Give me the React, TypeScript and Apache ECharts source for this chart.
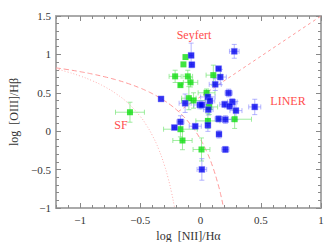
import React, { useEffect, useRef } from "react";
import * as echarts from "echarts";

// Blue points: x, y, x-error, y-error
const blueX = [-0.328, -0.078, -0.072, 0.28, 0.15, 0.164, 0.122, 0.233, 0.061, 0.078, -0.128, -0.005, 0.011, 0.064, 0.2, 0.264, 0.242, 0.294, 0.45, -0.167, -0.217, -0.044, 0.061, 0.15, 0.206, 0.153, 0.206, 0.011];
const blueY = [0.42, 0.987, 0.866, 1.04, 0.814, 0.705, 0.61, 0.498, 0.446, 0.394, 0.364, 0.342, 0.342, 0.281, 0.35, 0.381, 0.325, 0.268, 0.316, 0.121, 0.048, 0.065, 0.078, 0.16, 0.152, -0.039, -0.238, -0.498];
const blueXErr = [0.0, 0.02, 0.02, 0.04, 0.02, 0.05, 0.05, 0.03, 0.06, 0.04, 0.05, 0.05, 0.04, 0.04, 0.04, 0.04, 0.04, 0.05, 0.05, 0.03, 0.02, 0.05, 0.02, 0.03, 0.05, 0.02, 0.03, 0.04];
const blueYErr = [0.0, 0.16, 0.03, 0.09, 0.02, 0.1, 0.08, 0.05, 0.08, 0.05, 0.12, 0.05, 0.05, 0.07, 0.04, 0.04, 0.04, 0.12, 0.1, 0.08, 0.02, 0.02, 0.08, 0.04, 0.05, 0.05, 0.04, 0.14];

// Green points
const greenX = [-0.586, -0.125, -0.142, -0.211, -0.106, -0.167, -0.083, 0.106, -0.097, -0.058, 0.05, 0.072, 0.061, -0.167, -0.15, 0.008, 0.283];
const greenY = [0.247, 0.965, 0.87, 0.714, 0.714, 0.6, 0.636, 0.73, 0.43, 0.4, 0.5, 0.316, 0.134, 0.026, -0.121, -0.238, 0.156];
const greenXErr = [0.12, 0.0, 0.0, 0.05, 0.04, 0.01, 0.06, 0.06, 0.06, 0.1, 0.07, 0.07, 0.1, 0.14, 0.08, 0.07, 0.14];
const greenYErr = [0.13, 0.0, 0.0, 0.08, 0.08, 0.01, 0.06, 0.13, 0.15, 0.1, 0.05, 0.1, 0.1, 0.1, 0.12, 0.15, 0.12];

// Axis ticks
const xMajor = [-1, -0.5, 0, 0.5, 1];
const yMajor = [-1, -0.5, 0, 0.5, 1, 1.5];
const xMinor = [-1.2, -1.1, -0.9, -0.8, -0.7, -0.6, -0.4, -0.3, -0.2, -0.1, 0.1, 0.2, 0.3, 0.4, 0.6, 0.7, 0.8, 0.9];
const yMinor = [-0.9, -0.8, -0.7, -0.6, -0.4, -0.3, -0.2, -0.1, 0.1, 0.2, 0.3, 0.4, 0.6, 0.7, 0.8, 0.9, 1.1, 1.2, 1.3, 1.4];

// Demarcation-curve sample abscissae
const curveXs = [-1.2, -1.1, -1.0, -0.9, -0.8, -0.7, -0.6, -0.5, -0.45, -0.4, -0.35, -0.3, -0.25, -0.2, -0.15, -0.1, -0.05, 0.0, 0.05, 0.1, 0.15, 0.17, 0.19];
const kaufXs = [-1.2, -1.1, -1.0, -0.9, -0.8, -0.7, -0.6, -0.5, -0.45, -0.4, -0.35, -0.3, -0.27, -0.24, -0.22];

const kewley = (x: number) => 0.61 / (x - 0.47) + 1.19;
const kauffmann = (x: number) => 0.61 / (x - 0.05) + 1.3;

const SERIF = "'Liberation Serif', 'DejaVu Serif', serif";
const AXIS_GRAY = "#aaaaaa";
const TICK_GRAY = "#888888";

export default function App() {
  const ref = useRef<HTMLDivElement>(null);
  useEffect(() => {
    const chart = echarts.init(ref.current!, null, { renderer: "svg" });

    const kewleyData = curveXs.filter((x) => kewley(x) >= -1.0).map((x) => [x, kewley(x)]);
    kewleyData.push([0.1915, -1]);
    const kaufData = kaufXs.map((x) => [x, kauffmann(x)]);
    kaufData.push([-0.2154, -1]);
    const sx0 = -0.1838;
    const schawData = [[sx0, 1.05 * sx0 + 0.45], [1.0, 1.5]];

    const blueData = blueX.map((x, i) => [x, blueY[i], blueXErr[i], blueYErr[i]]);
    const greenData = greenX.map((x, i) => [x, greenY[i], greenXErr[i], greenYErr[i]]);

    const errRender = (color: string) => (params: any, api: any) => {
      const x = api.value(0), y = api.value(1), ex = api.value(2), ey = api.value(3);
      const l = api.coord([x - ex, y]);
      const r = api.coord([x + ex, y]);
      const t = api.coord([x, y + ey]);
      const b = api.coord([x, y - ey]);
      const cap = 2.5;
      const style = { stroke: color, lineWidth: 1 };
      const children: any[] = [];
      if (ex > 0) {
        children.push({ type: "line", shape: { x1: l[0], y1: l[1], x2: r[0], y2: r[1] }, style });
        children.push({ type: "line", shape: { x1: l[0], y1: l[1] - cap, x2: l[0], y2: l[1] + cap }, style });
        children.push({ type: "line", shape: { x1: r[0], y1: r[1] - cap, x2: r[0], y2: r[1] + cap }, style });
      }
      if (ey > 0) {
        children.push({ type: "line", shape: { x1: t[0], y1: t[1], x2: b[0], y2: b[1] }, style });
        children.push({ type: "line", shape: { x1: t[0] - cap, y1: t[1], x2: t[0] + cap, y2: t[1] }, style });
        children.push({ type: "line", shape: { x1: b[0] - cap, y1: b[1], x2: b[0] + cap, y2: b[1] }, style });
      }
      return { type: "group", children };
    };

    const fmt = (v: number) => String(v).replace("-", "\u2212");

    const baseX = { type: "value", min: -1.2, max: 1, splitLine: { show: false } };
    const baseY = { type: "value", min: -1, max: 1.5, splitLine: { show: false } };
    const line = (show: boolean) => ({ show, onZero: false, lineStyle: { color: AXIS_GRAY, width: 2 } });

    chart.setOption({
      animation: false,
      grid: { left: 56, right: 12, top: 16, bottom: 34, outerBoundsMode: "none", containLabel: false },
      xAxis: [
        {
          ...baseX,
          position: "bottom",
          name: "log  [NII]/H\u03b1",
          nameLocation: "middle",
          nameGap: 22,
          nameTextStyle: { fontFamily: SERIF, fontSize: 12, color: "#333" },
          axisLine: line(true),
          axisTick: { show: true, inside: true, length: 5, customValues: xMajor, lineStyle: { color: TICK_GRAY } },
          axisLabel: { show: true, customValues: xMajor, formatter: fmt, fontFamily: SERIF, fontSize: 11, color: "#333", margin: 6 },
        },
        {
          ...baseX,
          position: "bottom",
          axisLine: line(false),
          axisTick: { show: true, inside: true, length: 3, customValues: xMinor, lineStyle: { color: TICK_GRAY } },
          axisLabel: { show: false },
        },
        {
          ...baseX,
          position: "top",
          axisLine: line(true),
          axisTick: { show: true, inside: true, length: 5, customValues: xMajor, lineStyle: { color: TICK_GRAY } },
          axisLabel: { show: false },
        },
        {
          ...baseX,
          position: "top",
          axisLine: line(false),
          axisTick: { show: true, inside: true, length: 3, customValues: xMinor, lineStyle: { color: TICK_GRAY } },
          axisLabel: { show: false },
        },
      ],
      yAxis: [
        {
          ...baseY,
          position: "left",
          name: "log  [OIII]/H\u03b2",
          nameLocation: "middle",
          nameGap: 33,
          nameRotate: 90,
          nameTextStyle: { fontFamily: SERIF, fontSize: 12, color: "#333" },
          axisLine: line(true),
          axisTick: { show: true, inside: true, length: 5, customValues: yMajor, lineStyle: { color: TICK_GRAY } },
          axisLabel: { show: true, customValues: yMajor, formatter: fmt, fontFamily: SERIF, fontSize: 11, color: "#333", margin: 5 },
        },
        {
          ...baseY,
          position: "left",
          axisLine: line(false),
          axisTick: { show: true, inside: true, length: 3, customValues: yMinor, lineStyle: { color: TICK_GRAY } },
          axisLabel: { show: false },
        },
        {
          ...baseY,
          position: "right",
          axisLine: line(true),
          axisTick: { show: true, inside: true, length: 5, customValues: yMajor, lineStyle: { color: TICK_GRAY } },
          axisLabel: { show: false },
        },
        {
          ...baseY,
          position: "right",
          axisLine: line(false),
          axisTick: { show: true, inside: true, length: 3, customValues: yMinor, lineStyle: { color: TICK_GRAY } },
          axisLabel: { show: false },
        },
      ],
      series: [
        {
          type: "line",
          data: kewleyData,
          showSymbol: false,
          smooth: true,
          lineStyle: { color: "#ff9a9a", width: 1, type: [5, 3] },
          z: 1,
        },
        {
          type: "line",
          data: kaufData,
          showSymbol: false,
          smooth: true,
          lineStyle: { color: "#ffb0b0", width: 1, type: [1, 2] },
          z: 1,
        },
        {
          type: "line",
          data: schawData,
          showSymbol: false,
          lineStyle: { color: "#ff9a9a", width: 1, type: [3, 3] },
          z: 1,
        },
        {
          type: "custom",
          data: greenData,
          renderItem: errRender("rgba(120,230,120,0.7)"),
          encode: { x: 0, y: 1 },
          z: 2,
        },
        {
          type: "custom",
          data: blueData,
          renderItem: errRender("rgba(130,130,255,0.6)"),
          encode: { x: 0, y: 1 },
          z: 2,
        },
        {
          type: "scatter",
          data: greenData.map((d) => [d[0], d[1]]),
          symbol: "rect",
          symbolSize: 6,
          itemStyle: { color: "#11dd11" },
          z: 3,
        },
        {
          type: "scatter",
          data: blueData.map((d) => [d[0], d[1]]),
          symbol: "rect",
          symbolSize: 6,
          itemStyle: { color: "#0000ee", borderColor: "rgba(120,120,255,0.5)", borderWidth: 1 },
          z: 4,
        },
      ],
      graphic: [
        { type: "text", x: 194, y: 35, style: { text: "Seyfert", fontFamily: SERIF, fontSize: 12, fill: "#ff4d4d", align: "center", verticalAlign: "middle" } },
        { type: "text", x: 288, y: 101, style: { text: "LINER", fontFamily: SERIF, fontSize: 12, fill: "#ff4d4d", align: "center", verticalAlign: "middle" } },
        { type: "text", x: 121, y: 125, style: { text: "SF", fontFamily: SERIF, fontSize: 12, fill: "#ff4d4d", align: "center", verticalAlign: "middle" } },
      ],
    });
    return () => chart.dispose();
  }, []);
  return <div ref={ref} style={{ width: 333, height: 242, position: "absolute", left: 0, top: 0 }} />;
}
